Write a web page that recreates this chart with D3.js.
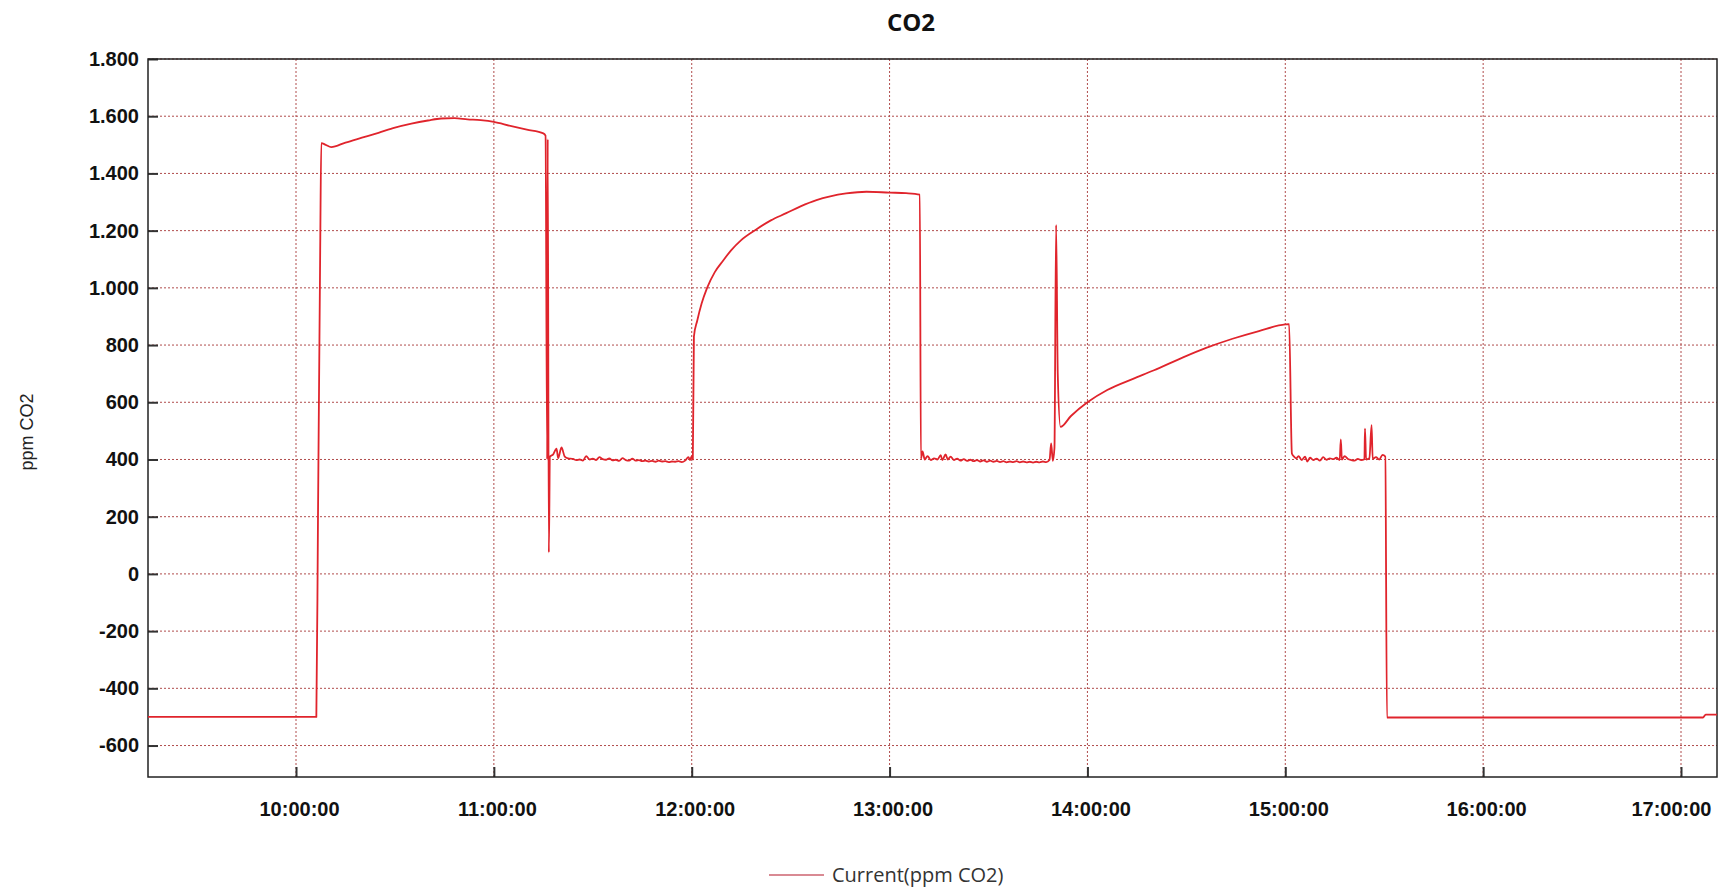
<!DOCTYPE html>
<html>
<head>
<meta charset="utf-8">
<script src="https://cdn.jsdelivr.net/npm/d3@7"></script>
<style>
  body { margin: 0; background: #fff; }
  svg { display: block; }
</style>
</head>
<body>
<svg id="chart" width="1722" height="893"></svg>
<script>
// CO2 readings, one sensor
var times = [
  "09:15:07", "10:06:10", "10:06:40", "10:07:20", "10:07:40", "10:09:00", "10:10:40", "10:15:00",
  "10:20:00", "10:25:00", "10:30:00", "10:35:00", "10:40:00", "10:44:00", "10:48:00", "10:52:00",
  "10:56:00", "11:00:00", "11:05:00", "11:10:00", "11:15:00", "11:15:40", "11:16:10", "11:16:20",
  "11:16:40", "11:17:00", "11:18:00", "11:19:00", "11:19:30", "11:20:30", "11:21:30", "11:22:30",
  "11:24:00", "11:25:00", "11:26:00", "11:27:00", "11:28:00", "11:29:00", "11:30:00", "11:31:00",
  "11:32:00", "11:33:00", "11:34:00", "11:35:00", "11:36:00", "11:37:00", "11:38:00", "11:39:00",
  "11:40:00", "11:41:00", "11:42:00", "11:43:00", "11:44:00", "11:45:00", "11:46:00", "11:47:00",
  "11:48:00", "11:49:00", "11:50:00", "11:51:00", "11:52:00", "11:53:00", "11:54:00", "11:55:00",
  "11:56:00", "11:57:00", "11:58:00", "11:59:00", "11:59:30", "12:00:00", "12:00:20", "12:00:40",
  "12:01:40", "12:03:00", "12:04:40", "12:07:00", "12:09:30", "12:12:00", "12:15:00", "12:19:40",
  "12:24:00", "12:28:40", "12:33:00", "12:37:50", "12:42:00", "12:46:50", "12:53:00", "13:00:00",
  "13:05:00", "13:09:10", "13:09:30", "13:10:00", "13:10:40", "13:11:30", "13:12:30", "13:13:30",
  "13:14:30", "13:15:30", "13:16:00", "13:17:00", "13:17:40", "13:18:30", "13:19:30", "13:20:30",
  "13:21:30", "13:22:30", "13:23:30", "13:24:30", "13:25:30", "13:26:30", "13:27:30", "13:28:30",
  "13:29:30", "13:30:30", "13:31:30", "13:32:30", "13:33:30", "13:34:30", "13:35:30", "13:36:30",
  "13:37:30", "13:38:30", "13:39:30", "13:40:30", "13:41:30", "13:42:30", "13:43:30", "13:44:30",
  "13:45:30", "13:46:30", "13:47:30", "13:48:30", "13:49:00", "13:49:30", "13:50:00", "13:50:30",
  "13:51:00", "13:51:50", "13:55:00", "14:00:00", "14:06:00", "14:13:50", "14:20:00", "14:29:00",
  "14:36:00", "14:44:00", "14:52:00", "15:00:00", "15:01:10", "15:02:00", "15:02:40", "15:03:20",
  "15:04:00", "15:05:00", "15:06:00", "15:06:40", "15:07:30", "15:08:30", "15:09:30", "15:10:30",
  "15:11:30", "15:12:30", "15:13:30", "15:14:30", "15:15:30", "15:16:30", "15:16:50", "15:17:10",
  "15:18:00", "15:19:00", "15:20:00", "15:21:00", "15:22:00", "15:23:00", "15:24:00", "15:24:10",
  "15:24:30", "15:25:30", "15:26:10", "15:26:30", "15:27:30", "15:28:30", "15:29:30", "15:30:20",
  "15:30:50", "17:06:40", "17:07:30", "17:10:55"
];
var ppm = [
  -500, -500, 200, 1130, 1506, 1500, 1492, 1508,
  1525, 1542, 1560, 1574, 1585, 1592, 1593, 1589,
  1586, 1580, 1566, 1553, 1540, 1532, 400, 1520,
  75, 410, 418, 438, 405, 442, 410, 404,
  402, 398, 400, 396, 412, 400, 403, 398,
  408, 401, 399, 404, 397, 399, 395, 405,
  398, 396, 403, 396, 398, 394, 396, 393,
  395, 392, 396, 393, 394, 391, 393, 392,
  394, 391, 396, 408, 398, 412, 400, 830,
  885, 945, 1000, 1055, 1095, 1132, 1167, 1205,
  1236, 1261, 1285, 1307, 1320, 1330, 1336, 1333,
  1331, 1326, 402, 428, 400, 412, 398, 404,
  400, 415, 398, 418, 400, 410, 398, 403,
  396, 401, 395, 399, 394, 398, 393, 397,
  392, 396, 392, 395, 391, 394, 390, 393,
  391, 394, 390, 393, 390, 392, 389, 392,
  390, 393, 391, 398, 456, 395, 440, 1220,
  700, 514, 552, 600, 643, 682, 711, 757,
  790, 822, 849, 872, 873, 421, 410, 404,
  412, 398, 410, 393, 406, 398, 403, 396,
  408, 399, 404, 401, 406, 398, 470, 400,
  412, 402, 398, 396, 402, 398, 401, 508,
  400, 404, 520, 402, 408, 400, 416, 410,
  -502, -502, -492, -492
];

var timeStart = "09:15:07", timeEnd = "17:10:55";
var yTicks = [-600, -400, -200, 0, 200, 400, 600, 800, 1000, 1200, 1400, 1600, 1800];
var xTicks = ["10:00:00", "11:00:00", "12:00:00", "13:00:00", "14:00:00", "15:00:00", "16:00:00", "17:00:00"];

var parseTime = d3.timeParse("%H:%M:%S");
var data = times.map(function(t, i) { return { t: parseTime(t), v: ppm[i] }; });

var margin = { top: 59, right: 5, bottom: 116, left: 148 },
	width = 1722 - margin.left - margin.right,
	height = 893 - margin.top - margin.bottom;

var svg = d3.select("#chart");
var g = svg.append("g").attr("transform", "translate(" + margin.left + "," + margin.top + ")");

var x = d3.scaleTime()
	.domain([parseTime(timeStart), parseTime(timeEnd)])
	.range([0, width]);
var y = d3.scaleLinear()
	.domain([-710, 1800])
	.range([height, 0]);

// "1.800" style numbers, plain hyphen for negatives
var locale = d3.formatLocale({ decimal: ",", thousands: ".", grouping: [3], currency: ["", ""], minus: "-" });
var fmtY = locale.format(",d");

// dotted grid
var gridColor = "#b04c4c";
g.append("g").selectAll("line")
	.data(yTicks).join("line")
	.attr("x1", 0).attr("x2", width)
	.attr("y1", function(d) { return y(d); }).attr("y2", function(d) { return y(d); })
	.attr("stroke", gridColor).attr("stroke-width", 1).attr("stroke-dasharray", "2,2");
g.append("g").selectAll("line")
	.data(xTicks).join("line")
	.attr("x1", function(d) { return x(parseTime(d)); }).attr("x2", function(d) { return x(parseTime(d)); })
	.attr("y1", 0).attr("y2", height)
	.attr("stroke", gridColor).attr("stroke-width", 1).attr("stroke-dasharray", "2,2");

// axes, ticks pointing inside
var yAxis = g.append("g")
	.call(d3.axisLeft(y).tickValues(yTicks).tickFormat(fmtY).tickSize(-10).tickPadding(9));
var xAxis = g.append("g")
	.attr("transform", "translate(0," + height + ")")
	.call(d3.axisBottom(x).tickValues(xTicks.map(parseTime)).tickFormat(d3.timeFormat("%H:%M:%S")).tickSize(-10).tickPadding(25));

[yAxis, xAxis].forEach(function(ax) {
	ax.select(".domain").remove();
	ax.selectAll(".tick line").attr("stroke", "#333").attr("stroke-width", 2);
	ax.selectAll(".tick text")
		.attr("fill", "#111")
		.style("font-family", "'Liberation Sans', Arial, sans-serif")
		.style("font-weight", "bold")
		.style("font-size", "20px");
});
xAxis.selectAll(".tick text").attr("x", 3);
// last label is kept inside the frame
var lastTick = xAxis.selectAll(".tick").filter(function(d, i) { return i == xTicks.length - 1; });
lastTick.select("text")
	.attr("text-anchor", "end")
	.attr("x", width - 6 - x(parseTime(xTicks[xTicks.length - 1])));

// frame
g.append("rect")
	.attr("width", width).attr("height", height)
	.attr("fill", "none").attr("stroke", "#222").attr("stroke-width", 1.5);

// series
var line = d3.line()
	.curve(d3.curveMonotoneX)
	.x(function(d) { return x(d.t); })
	.y(function(d) { return y(d.v); });

g.append("path")
	.datum(data)
	.attr("d", line)
	.attr("fill", "none")
	.attr("stroke", "#e0242c")
	.attr("stroke-width", 1.8)
	.attr("stroke-linejoin", "round");

// title
svg.append("text")
	.attr("x", 911).attr("y", 31)
	.attr("text-anchor", "middle")
	.style("font-family", "'Open Sans', sans-serif")
	.style("font-weight", "bold")
	.style("font-size", "24px")
	.attr("fill", "#111")
	.text("CO2");

// y axis title
svg.append("text")
	.attr("transform", "translate(33,432) rotate(-90)")
	.attr("text-anchor", "middle")
	.style("font-family", "'Liberation Sans', Arial, sans-serif")
	.style("font-size", "18px")
	.attr("fill", "#222")
	.text("ppm CO2");

// legend
var legend = svg.append("g").attr("transform", "translate(769,875)");
legend.append("line")
	.attr("x1", 0).attr("x2", 55)
	.attr("stroke", "#d98a93").attr("stroke-width", 2);
legend.append("text")
	.attr("x", 63).attr("y", 7)
	.style("font-family", "'Open Sans', sans-serif")
	.style("font-size", "20px")
	.attr("fill", "#333")
	.text("Current(ppm CO2)");
</script>
</body>
</html>
